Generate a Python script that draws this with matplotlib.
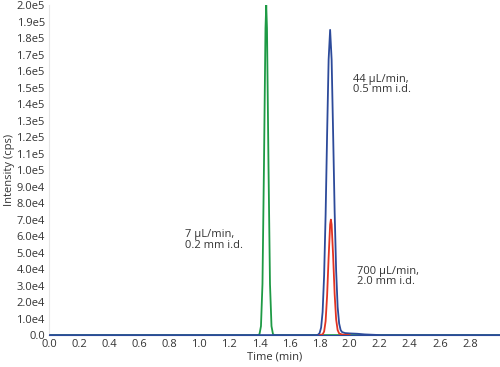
import matplotlib
matplotlib.use("Agg")
import matplotlib.pyplot as plt

plt.rcParams['font.family'] = ['Open Sans', 'DejaVu Sans']

# Green trace: 7 uL/min, 0.2 mm i.d.
green_t = [0.0, 1.39, 1.40, 1.41, 1.42, 1.43, 1.44, 1.445, 1.45, 1.46, 1.47, 1.48, 1.49, 1.50, 3.0]
green_y = [0, 0, 500, 5400, 31000, 103000, 186000, 200000, 186000, 103000, 31000, 5400, 500, 0, 0]

# Blue trace: 44 uL/min, 0.5 mm i.d.
blue_t = [0.0, 1.78, 1.79, 1.80, 1.81, 1.82, 1.83, 1.84, 1.85, 1.86, 1.87, 1.88, 1.89, 1.90,
          1.91, 1.92, 1.93, 1.94, 1.95, 1.97, 2.00, 2.05, 2.10, 2.20, 3.0]
blue_y = [0, 0, 250, 1200, 4500, 14000, 36000, 73000, 122000, 167000, 185000, 167000, 122000,
          75000, 39000, 17000, 7000, 3000, 1800, 1200, 1000, 800, 400, 0, 0]

# Red trace: 700 uL/min, 2.0 mm i.d.
red_t = [1.80, 1.82, 1.83, 1.84, 1.85, 1.86, 1.87, 1.875, 1.88, 1.89, 1.90, 1.91, 1.92, 1.93, 1.95, 2.00]
red_y = [0, 400, 2100, 8400, 24000, 47000, 67000, 70000, 67000, 48000, 25000, 9500, 3000, 1000, 300, 0]

x_ticks = [0.0, 0.2, 0.4, 0.6, 0.8, 1.0, 1.2, 1.4, 1.6, 1.8, 2.0, 2.2, 2.4, 2.6, 2.8]
y_ticks = [i * 10000 for i in range(21)]
y_tick_labels = ['0.0', '1.0e4', '2.0e4', '3.0e4', '4.0e4', '5.0e4', '6.0e4', '7.0e4', '8.0e4',
                 '9.0e4', '1.0e5', '1.1e5', '1.2e5', '1.3e5', '1.4e5', '1.5e5', '1.6e5',
                 '1.7e5', '1.8e5', '1.9e5', '2.0e5']

labels = ['7 μL/min,\n0.2 mm i.d.', '44 μL/min,\n0.5 mm i.d.', '700 μL/min,\n2.0 mm i.d.']

fig = plt.figure(figsize=(5.0, 3.67), dpi=100)
ax = fig.add_axes([0.098, 0.087, 0.902, 0.899])

ax.plot(green_t, green_y, color='#1e9a45', lw=1.3, zorder=2)
ax.plot(blue_t, blue_y, color='#2c4a9a', lw=1.3, zorder=3)
ax.plot(red_t, red_y, color='#e23322', lw=1.3, zorder=4)

ax.set_xlim(0, 3.0)
ax.set_ylim(0, 200000)
ax.set_xticks(x_ticks)
ax.set_xticklabels([f'{v:.1f}' for v in x_ticks])
ax.set_yticks(y_ticks)
ax.set_yticklabels(y_tick_labels)
ax.tick_params(length=0, labelsize=8, colors='#333333', pad=3)
ax.tick_params(axis='x', pad=3)

for s in ['top', 'right']:
    ax.spines[s].set_visible(False)
ax.spines['left'].set_color('#e6e6e6')
ax.spines['left'].set_linewidth(0.8)
ax.spines['bottom'].set_color('#2c4a9a')

ax.set_xlabel('Time (min)', fontsize=8, color='#333333', labelpad=1)
ax.set_ylabel('Intensity (cps)', fontsize=8, color='#333333', labelpad=1)

ax.text(0.905, 64000, labels[0], fontsize=8, color='#333333', va='top', ha='left', linespacing=0.95)
ax.text(2.02, 158500, labels[1], fontsize=8, color='#333333', va='top', ha='left', linespacing=0.95)
ax.text(2.05, 42000, labels[2], fontsize=8, color='#333333', va='top', ha='left', linespacing=0.95)

fig.savefig('out.png', dpi=100)
